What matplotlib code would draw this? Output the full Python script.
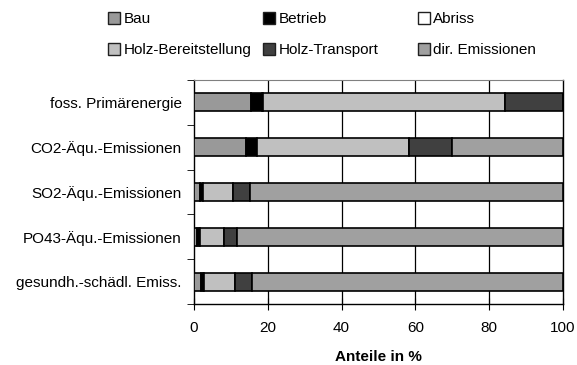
import matplotlib
matplotlib.use("Agg")
import matplotlib.pyplot as plt
import numpy as np
from matplotlib.patches import Patch

plt.rcParams['font.family'] = ['Liberation Sans', 'DejaVu Sans']

categories = ["foss. Primärenergie", "CO2-Äqu.-Emissionen", "SO2-Äqu.-Emissionen",
              "PO43-Äqu.-Emissionen", "gesundh.-schädl. Emiss."]
series_names = ["Bau", "Betrieb", "Abriss", "Holz-Bereitstellung", "Holz-Transport", "dir. Emissionen"]
bau = [15.4, 14.0, 1.6, 0.7, 1.9]
betrieb = [3.0, 3.0, 0.8, 0.7, 0.6]
abriss = [0.2, 0.2, 0.1, 0.1, 0.1]
holz_bereit = [65.6, 41.0, 8.2, 6.6, 8.5]
holz_transport = [15.8, 11.8, 4.5, 3.5, 4.6]
dir_emissionen = [0.0, 30.0, 84.8, 88.4, 84.3]
colors = ["#999999", "#000000", "#ffffff", "#c0c0c0", "#404040", "#a0a0a0"]

series = [bau, betrieb, abriss, holz_bereit, holz_transport, dir_emissionen]

fig = plt.figure(figsize=(5.77, 3.65), dpi=100)
ax = fig.add_axes([194 / 577, 1 - 304 / 365, (563 - 194) / 577, (304 - 80) / 365])

y = np.arange(len(categories))
left = np.zeros(len(categories))
handles = []
for name, vals, c in zip(series_names, series, colors):
    ax.barh(y, vals, left=left, height=0.4, color=c, edgecolor="black", linewidth=1.2, zorder=3)
    left += np.array(vals)
    handles.append(Patch(facecolor=c, edgecolor="#202020", linewidth=1.0, label=name))

for gx in [20, 40, 60, 80]:
    ax.axvline(gx, color="black", linewidth=0.9, zorder=1)

ax.set_xlim(0, 100)
ax.set_ylim(len(categories) - 0.5, -0.5)
ax.set_xticks([0, 20, 40, 60, 80, 100])
ax.tick_params(axis="x", direction="inout", length=8, labelsize=11, pad=8)
ax.set_yticks(y)
ax.set_yticklabels(categories, fontsize=11)
ax.set_yticks(np.arange(-0.5, len(categories), 1.0), minor=True)
ax.tick_params(axis="y", which="major", length=0, pad=9)
ax.tick_params(axis="y", which="minor", direction="out", length=5)
ax.set_xlabel("Anteile in %", fontsize=11, fontweight="bold", labelpad=11)

for s in ["left", "bottom", "right"]:
    ax.spines[s].set_color("black")
    ax.spines[s].set_linewidth(1.0)
ax.spines["top"].set_color("#808080")

# legend laid out as three columns of two entries
col_x = [108, 263, 418]
for i, xpx in enumerate(col_x):
    fig.legend(handles=[handles[i], handles[i + 3]], loc="upper left",
               bbox_to_anchor=(xpx / 577, 1 - 12 / 365), frameon=False,
               fontsize=11, handlelength=0.8, handleheight=0.8,
               handletextpad=0.2, labelspacing=1.1, borderaxespad=0, borderpad=0)

fig.savefig("out.png", dpi=100)
